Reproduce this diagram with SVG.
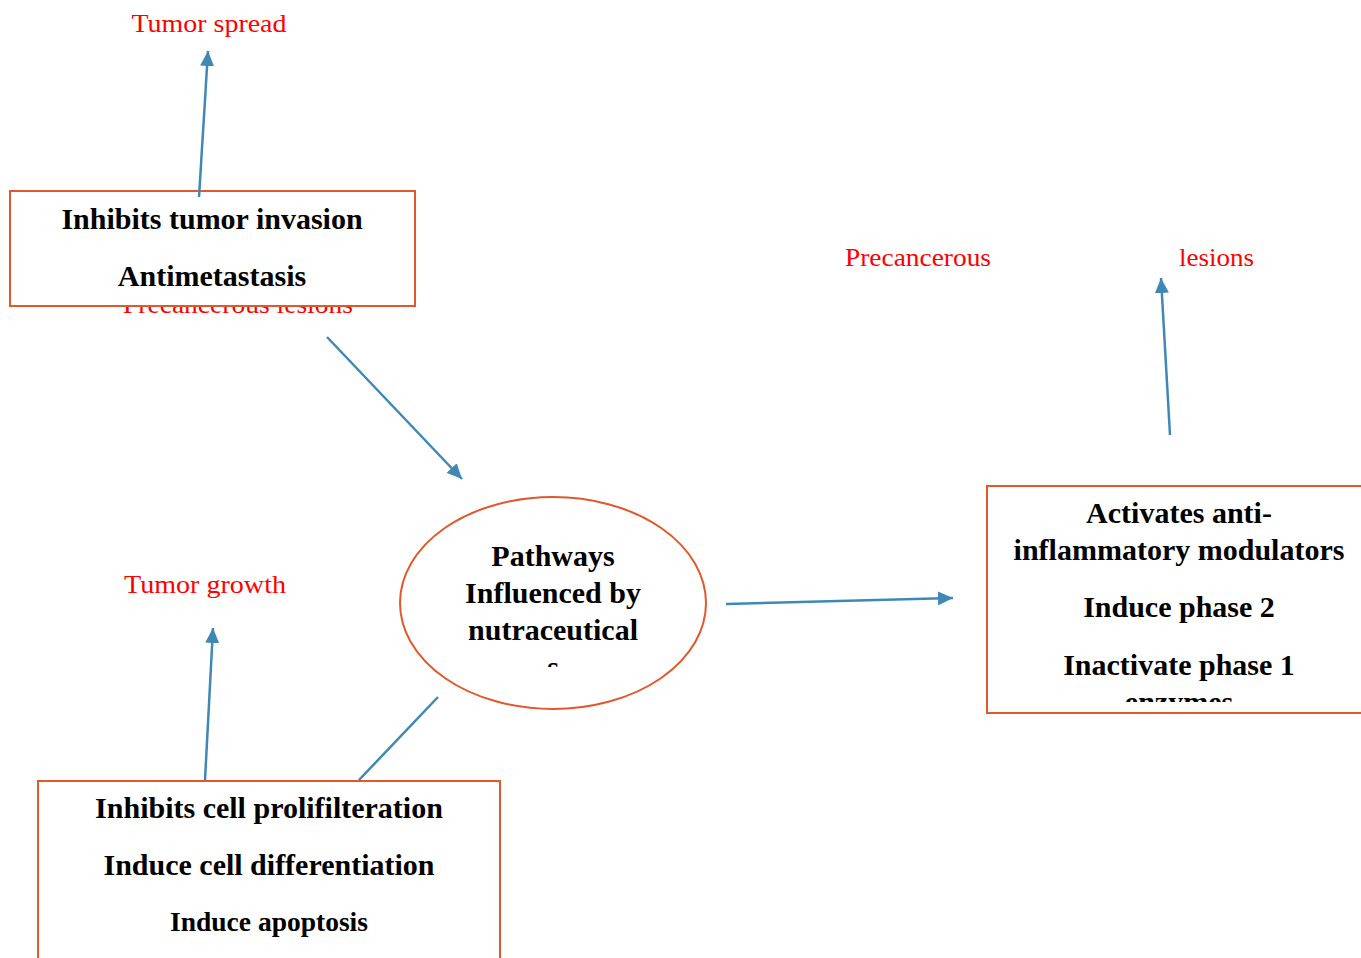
<svg xmlns="http://www.w3.org/2000/svg" width="1361" height="958" viewBox="0 0 1361 958">
<style>
.box{fill:#fff;stroke:#E2572B;stroke-width:2}
.b{font-family:"Liberation Serif",serif;font-weight:bold;font-size:30px;fill:#000;text-anchor:middle}
.r{font-family:"Liberation Serif",serif;font-size:25px;fill:#FF0000}
.c{stroke:#3F88B6;stroke-width:2.5;fill:none}
</style>
<defs>
<marker id="ah" markerUnits="userSpaceOnUse" markerWidth="16" markerHeight="14" refX="15" refY="7" orient="auto">
<path d="M0,0 L15,7 L0,14 z" fill="#3F88B6"/>
</marker>
<clipPath id="ce"><rect x="400" y="497" width="310" height="170"/></clipPath>
<clipPath id="cr"><rect x="987" y="486" width="374" height="216"/></clipPath>
</defs>
<g id="labels">
<text class="r" x="209" y="32" text-anchor="middle" textLength="155" lengthAdjust="spacingAndGlyphs">Tumor spread</text>
<text class="r" x="238" y="313" text-anchor="middle" textLength="230" lengthAdjust="spacingAndGlyphs">Precancerous lesions</text>
<text class="r" x="845" y="266" textLength="146" lengthAdjust="spacingAndGlyphs">Precancerous</text>
<text class="r" x="1179" y="266" textLength="75" lengthAdjust="spacingAndGlyphs">lesions</text>
<text class="r" x="124" y="593" textLength="162" lengthAdjust="spacingAndGlyphs">Tumor growth</text>
</g>
<g id="node-invasion">
<rect class="box" x="10" y="191" width="405" height="115"/>
<text class="b" x="212" y="229">Inhibits tumor invasion</text>
<text class="b" x="212" y="286">Antimetastasis</text>
</g>
<g id="node-pathways">
<ellipse class="box" cx="553" cy="603" rx="153" ry="106"/>
<g clip-path="url(#ce)">
<text class="b" x="553" y="566">Pathways</text>
<text class="b" x="553" y="603">Influenced by</text>
<text class="b" x="553" y="640">nutraceutical</text>
<text class="b" x="553" y="677">s</text>
</g>
</g>
<g id="node-antiinflammatory">
<rect class="box" x="987" y="486" width="390" height="227"/>
<g clip-path="url(#cr)">
<text class="b" x="1179" y="523">Activates anti-</text>
<text class="b" x="1179" y="560">inflammatory modulators</text>
<text class="b" x="1179" y="617">Induce phase 2</text>
<text class="b" x="1179" y="675">Inactivate phase 1</text>
<text class="b" x="1179" y="712">enzymes</text>
</g>
</g>
<g id="node-proliferation">
<rect class="box" x="38" y="781" width="462" height="200"/>
<text class="b" x="269" y="818">Inhibits cell prolifilteration</text>
<text class="b" x="269" y="875">Induce cell differentiation</text>
<text class="b" x="269" y="931" style="font-size:27.5px">Induce apoptosis</text>
</g>
<g id="connectors">
<line class="c" x1="199" y1="197" x2="208" y2="51" marker-end="url(#ah)"/>
<line class="c" x1="327" y1="337" x2="462" y2="479" marker-end="url(#ah)"/>
<line class="c" x1="726" y1="604" x2="953" y2="598" marker-end="url(#ah)"/>
<line class="c" x1="1170" y1="435" x2="1161" y2="278" marker-end="url(#ah)"/>
<line class="c" x1="205" y1="780" x2="213" y2="628" marker-end="url(#ah)"/>
<line class="c" x1="438" y1="697" x2="359" y2="780"/>
</g>
</svg>
